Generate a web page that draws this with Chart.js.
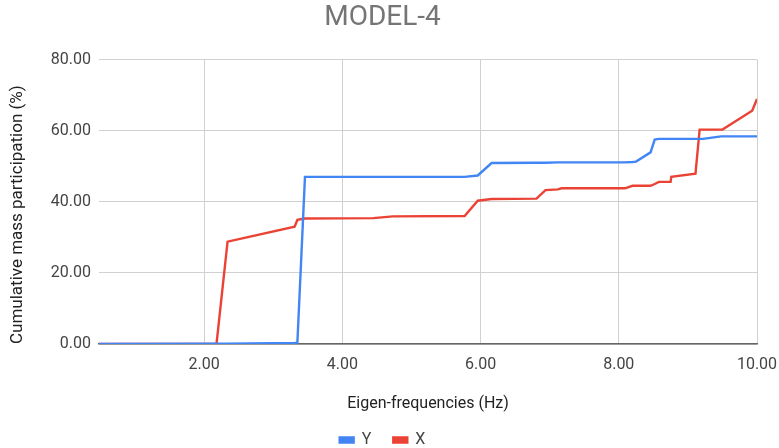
<!DOCTYPE html>
<html>
<head>
<meta charset="utf-8">
<script src="https://cdn.jsdelivr.net/npm/chart.js@4.4.1/dist/chart.umd.min.js"></script>
<style>
  html, body { margin: 0; padding: 0; background: #ffffff; }
  #wrap { width: 779px; height: 448px; }
</style>
</head>
<body>
<div id="wrap"><canvas id="chart" width="779" height="448"></canvas></div>
<script>
// Modal frequencies (Hz) and cumulative mass participation (%) per direction
const frequencies = [0.48, 2.18, 2.34, 3.31, 3.35, 3.46, 4.45, 4.73, 5.77, 5.96,
  6.16, 6.81, 6.94, 7.12, 7.17, 8.09, 8.20, 8.25, 8.46, 8.52,
  8.58, 8.75, 8.76, 9.11, 9.17, 9.22, 9.48, 9.50, 9.93, 10.00];
const yMass = [0, 0.1, 0.1, 0.3, 0.4, 47.0, 47.0, 47.0, 47.0, 47.4,
  50.9, 51.0, 51.0, 51.1, 51.1, 51.1, 51.2, 51.3, 53.9, 57.5,
  57.7, 57.7, 57.7, 57.7, 57.7, 57.7, 58.4, 58.4, 58.4, 58.4];
const xMass = [0, 0, 28.8, 33.0, 34.9, 35.3, 35.4, 35.9, 36.0, 40.3,
  40.8, 40.9, 43.3, 43.5, 43.8, 43.8, 44.5, 44.5, 44.5, 45.0,
  45.6, 45.6, 47.0, 47.9, 60.3, 60.3, 60.3, 60.3, 65.6, 68.9];
const seriesNames = ['Y', 'X'];
const xTicks = [2, 4, 6, 8, 10];
const yTicks = [0, 20, 40, 60, 80];

const toPoints = (vals) => frequencies.map((f, i) => ({ x: f, y: vals[i] }));

const FONT = 'Roboto, Arial, sans-serif';

new Chart(document.getElementById('chart'), {
  type: 'line',
  data: {
    datasets: [
      { label: seriesNames[0], data: toPoints(yMass), borderColor: '#4285F4', backgroundColor: '#4285F4',
        borderWidth: 2.4, pointRadius: 0, tension: 0, fill: false },
      { label: seriesNames[1], data: toPoints(xMass), borderColor: '#EA4335', backgroundColor: '#EA4335',
        borderWidth: 2.4, pointRadius: 0, tension: 0, fill: false }
    ]
  },
  options: {
    responsive: false,
    animation: false,
    events: [],
    layout: { padding: { left: 8, right: 22, top: 0, bottom: -10 } },
    plugins: {
      title: {
        display: true, text: 'MODEL-4', color: '#757575',
        font: { family: FONT, size: 28, weight: 'normal', lineHeight: 1.2 },
        padding: { top: 1, bottom: 25 }
      },
      legend: {
        position: 'bottom',
        labels: {
          color: '#444444', boxWidth: 14, boxHeight: 5, padding: 22,
          font: { family: FONT, size: 16 }
        }
      },
      tooltip: { enabled: false }
    },
    scales: {
      x: {
        type: 'linear',
        min: frequencies[0], max: frequencies[frequencies.length - 1],
        afterBuildTicks: (scale) => { scale.ticks = xTicks.map(v => ({ value: v })); },
        afterFit: (scale) => { scale.height = 66; },
        ticks: {
          color: '#444444', padding: 1, maxRotation: 0,
          font: { family: FONT, size: 16 },
          callback: (v) => Number(v).toFixed(2)
        },
        grid: { color: '#d0d0d0', lineWidth: 1, drawTicks: true, tickLength: 10, tickColor: 'rgba(0,0,0,0)' },
        border: { display: true, color: '#666666', width: 1.5 },
        title: {
          display: true, text: 'Eigen-frequencies (Hz)', color: '#222222',
          font: { family: FONT, size: 16 }, padding: { top: 0, bottom: -4 }
        }
      },
      y: {
        min: 0, max: 80,
        afterBuildTicks: (scale) => { scale.ticks = yTicks.map(v => ({ value: v })); },
        afterFit: (scale) => { scale.width = 91; },
        ticks: {
          color: '#444444', padding: 8,
          font: { family: FONT, size: 16 },
          callback: (v) => Number(v).toFixed(2)
        },
        grid: { color: '#d0d0d0', lineWidth: 1, drawTicks: false },
        border: { display: false },
        title: {
          display: true, text: 'Cumulative mass participation (%)', color: '#222222',
          align: 'start',
          font: { family: FONT, size: 17 }, padding: { top: 0, bottom: 0 }
        }
      }
    }
  }
});
</script>
</body>
</html>
